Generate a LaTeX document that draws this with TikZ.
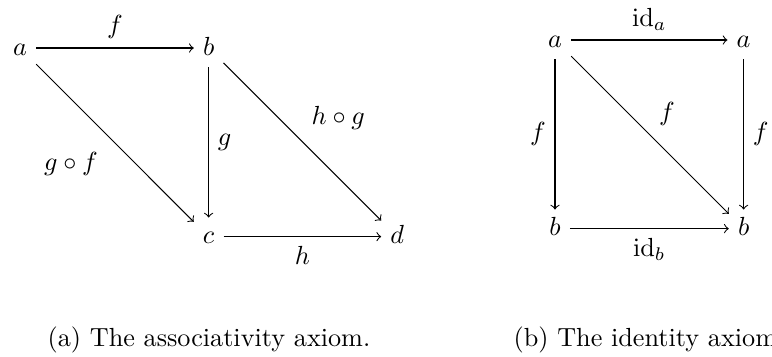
\documentclass[tikz,border=0pt]{standalone}
\usepackage{amsmath}
\usetikzlibrary{positioning}

\begin{document}
\begin{tikzpicture}[
    x=0.3817pt, y=-0.3817pt,
    obj/.style={on grid, text height=1.5ex, text depth=0.25ex},
    arr/.style={->},
    node distance=72pt,
  ]
    \clip (0,0) rectangle (772,356);

    % Associativity axiom (left)
    \node[obj] (a1) at (20,48) {$a$};
    \node[obj, right=of a1] (b1) {$b$};
    \node[obj, below=of b1] (c1) {$c$};
    \node[obj, right=of c1] (d1) {$d$};

    \draw[arr] (a1) -- node[above] {$f$} (b1);
    \draw[arr] (b1) -- node[right] {$g$} (c1);
    \draw[arr] (c1) -- node[below] {$h$} (d1);
    \draw[arr] (a1) -- node[below left, xshift=-3pt] {$g \circ f$} (c1);
    \draw[arr] (b1) -- node[above right, yshift=1pt] {$h \circ g$} (d1);

    % Identity axiom (right)
    \node[obj] (a2) at (555,40) {$a$};
    \node[obj, right=of a2] (a3) {$a$};
    \node[obj, below=of a2] (b2) {$b$};
    \node[obj, right=of b2] (b3) {$b$};

    \draw[arr] (a2) -- node[above] {$\mathrm{id}_a$} (a3);
    \draw[arr] (b2) -- node[below] {$\mathrm{id}_b$} (b3);
    \draw[arr] (a2) -- node[left] {$f$} (b2);
    \draw[arr] (a3) -- node[right] {$f$} (b3);
    \draw[arr] (a2) -- node[above right] {$f$} (b3);

    % Captions
    \node[anchor=base] (capa) at (209,346) {(a) The associativity axiom.};
    \node[anchor=base] (capb) at (649,346) {(b) The identity axiom.};
  \end{tikzpicture}
\end{document}
